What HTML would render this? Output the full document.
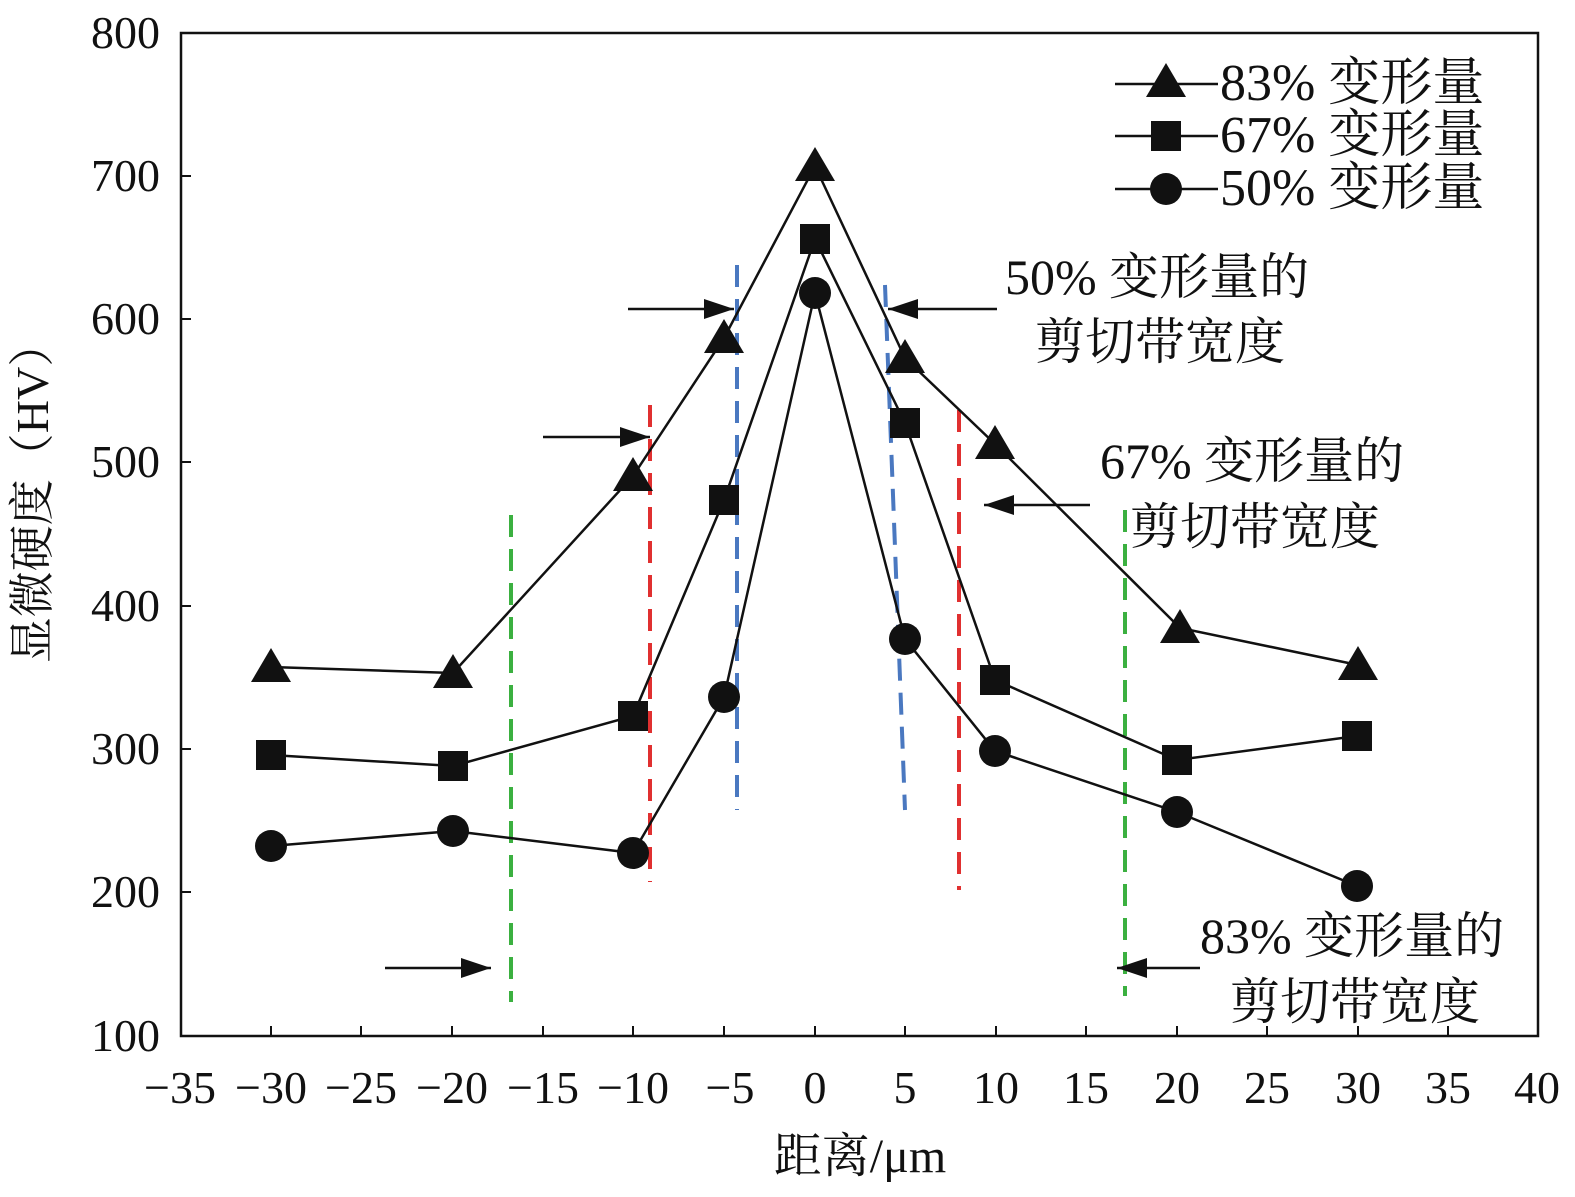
<!DOCTYPE html>
<html><head><meta charset="utf-8"><style>
html,body{margin:0;padding:0;background:#fff;overflow:hidden;width:1575px;height:1197px}
svg{display:block}
svg text{font-family:"Liberation Serif","Noto Serif CJK SC",serif;fill:#111}
</style></head><body>
<svg width="1575" height="1197" viewBox="0 0 1575 1197" xmlns="http://www.w3.org/2000/svg" font-family="Liberation Serif, Noto Serif CJK SC, serif">
<defs>
<marker id="ah" viewBox="0 0 30 20" refX="30" refY="10" markerWidth="30" markerHeight="20" orient="auto" markerUnits="userSpaceOnUse"><path d="M0,0 L30,10 L0,20 z" fill="#111"/></marker>
<symbol id="tri" viewBox="-20 -20 40 40" overflow="visible"><path d="M0,-19 L20,15 L-20,15 z" fill="#111"/></symbol>
</defs>
<rect x="181" y="33" width="1357" height="1003" fill="none" stroke="#111" stroke-width="2.5"/>
<g stroke="#111" stroke-width="2">
<line x1="271" y1="1036" x2="271" y2="1026"/><line x1="361" y1="1036" x2="361" y2="1026"/><line x1="452" y1="1036" x2="452" y2="1026"/><line x1="543" y1="1036" x2="543" y2="1026"/><line x1="633" y1="1036" x2="633" y2="1026"/><line x1="724" y1="1036" x2="724" y2="1026"/><line x1="815" y1="1036" x2="815" y2="1026"/><line x1="905" y1="1036" x2="905" y2="1026"/><line x1="996" y1="1036" x2="996" y2="1026"/><line x1="1086" y1="1036" x2="1086" y2="1026"/><line x1="1177" y1="1036" x2="1177" y2="1026"/><line x1="1267" y1="1036" x2="1267" y2="1026"/><line x1="1358" y1="1036" x2="1358" y2="1026"/><line x1="1448" y1="1036" x2="1448" y2="1026"/>
<line x1="181" y1="176" x2="191" y2="176"/><line x1="181" y1="319" x2="191" y2="319"/><line x1="181" y1="462" x2="191" y2="462"/><line x1="181" y1="606" x2="191" y2="606"/><line x1="181" y1="749" x2="191" y2="749"/><line x1="181" y1="892" x2="191" y2="892"/>
</g>
<g font-size="46" text-anchor="end">
<text x="160" y="48">800</text><text x="160" y="191">700</text><text x="160" y="334">600</text><text x="160" y="477">500</text><text x="160" y="621">400</text><text x="160" y="764">300</text><text x="160" y="907">200</text><text x="160" y="1051">100</text>
</g>
<g font-size="46" text-anchor="middle">
<text x="180" y="1103">−35</text><text x="271" y="1103">−30</text><text x="361" y="1103">−25</text><text x="452" y="1103">−20</text><text x="543" y="1103">−15</text><text x="633" y="1103">−10</text><text x="730" y="1103">−5</text><text x="815" y="1103">0</text><text x="905" y="1103">5</text><text x="996" y="1103">10</text><text x="1086" y="1103">15</text><text x="1177" y="1103">20</text><text x="1267" y="1103">25</text><text x="1358" y="1103">30</text><text x="1448" y="1103">35</text><text x="1537" y="1103">40</text>
</g>
<text x="860" y="1172" font-size="48" text-anchor="middle">距离/μm</text>
<text transform="translate(48,492) rotate(-90)" font-size="46" text-anchor="middle">显微硬度（HV）</text>
<g stroke-width="4" stroke-dasharray="22,12" fill="none">
<line x1="737" y1="265" x2="737" y2="810" stroke="#4a78c0"/>
<line x1="885" y1="285" x2="905" y2="810" stroke="#4a78c0"/>
<line x1="650" y1="405" x2="650" y2="882" stroke="#e03030"/>
<line x1="959" y1="410" x2="959" y2="890" stroke="#e03030"/>
<line x1="511" y1="515" x2="511" y2="1002" stroke="#3bb040"/>
<line x1="1125" y1="510" x2="1125" y2="996" stroke="#3bb040"/>
</g>
<g stroke="#111" stroke-width="2.5" marker-end="url(#ah)">
<line x1="628" y1="309" x2="734" y2="309"/><line x1="997" y1="309" x2="888" y2="309"/>
<line x1="543" y1="437" x2="650" y2="437"/><line x1="1090" y1="505" x2="984" y2="505"/>
<line x1="385" y1="968" x2="491" y2="968"/><line x1="1200" y1="968" x2="1117" y2="968"/>
</g>
<g stroke="#111" stroke-width="2.5" fill="none">
<polyline points="271,667 453,673 633,476 724,338 815,166 905,358 995,444 1180,628 1358,665"/>
<polyline points="271,755 453,766 633,716 724,500 815,239 905,423 995,680 1177,760 1357,736"/>
<polyline points="271,846 453,831 633,853 724,697 815,293 905,639 995,751 1177,812 1357,886"/>
</g>
<g fill="#111">
<use href="#tri" x="251" y="647" width="40" height="40"/><use href="#tri" x="433" y="653" width="40" height="40"/><use href="#tri" x="613" y="456" width="40" height="40"/><use href="#tri" x="704" y="318" width="40" height="40"/><use href="#tri" x="795" y="146" width="40" height="40"/><use href="#tri" x="885" y="338" width="40" height="40"/><use href="#tri" x="975" y="424" width="40" height="40"/><use href="#tri" x="1160" y="608" width="40" height="40"/><use href="#tri" x="1338" y="645" width="40" height="40"/>
<rect x="256" y="740" width="30" height="30"/><rect x="438" y="751" width="30" height="30"/><rect x="618" y="701" width="30" height="30"/><rect x="709" y="485" width="30" height="30"/><rect x="800" y="224" width="30" height="30"/><rect x="890" y="408" width="30" height="30"/><rect x="980" y="665" width="30" height="30"/><rect x="1162" y="745" width="30" height="30"/><rect x="1342" y="721" width="30" height="30"/>
<circle cx="271" cy="846" r="16"/><circle cx="453" cy="831" r="16"/><circle cx="633" cy="853" r="16"/><circle cx="724" cy="697" r="16"/><circle cx="815" cy="293" r="16"/><circle cx="905" cy="639" r="16"/><circle cx="995" cy="751" r="16"/><circle cx="1177" cy="812" r="16"/><circle cx="1357" cy="886" r="16"/>
</g>
<g stroke="#111" stroke-width="2.5">
<line x1="1115" y1="84" x2="1218" y2="84"/><line x1="1115" y1="136" x2="1218" y2="136"/><line x1="1115" y1="189" x2="1218" y2="189"/>
</g>
<use href="#tri" x="1146" y="62" width="40" height="40"/>
<rect x="1151" y="121" width="30" height="30" fill="#111"/>
<circle cx="1166" cy="189" r="16" fill="#111"/>
<g font-size="52">
<text x="1220" y="100">83% 变形量</text>
<text x="1220" y="152">67% 变形量</text>
<text x="1220" y="205">50% 变形量</text>
</g>
<g font-size="50">
<text x="1005" y="294">50% 变形量的</text><text x="1035" y="359">剪切带宽度</text>
<text x="1100" y="478">67% 变形量的</text><text x="1130" y="544">剪切带宽度</text>
<text x="1200" y="953">83% 变形量的</text><text x="1230" y="1019">剪切带宽度</text>
</g>
</svg>
</body></html>
